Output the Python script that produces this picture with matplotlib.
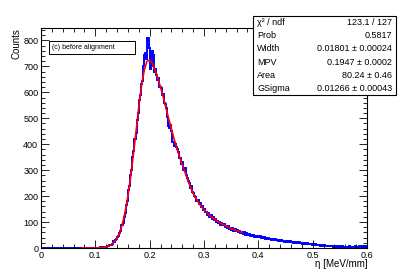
import numpy as np
import matplotlib
matplotlib.use("Agg")
import matplotlib.pyplot as plt
from matplotlib.patches import Rectangle
from matplotlib.ticker import MultipleLocator

# histogram: 300 bins of 0.002 between 0 and 0.6
bin_width = 0.002
counts = [
    # 0.000 - 0.120
    0, 0, 0, 1, 0, 0, 0, 0, 1, 0, 0, 0, 0, 0, 1, 0, 0, 0, 0, 0,
    0, 1, 0, 0, 0, 0, 0, 1, 0, 0, 0, 0, 1, 0, 0, 0, 0, 0, 1, 0,
    0, 0, 0, 1, 0, 0, 1, 0, 0, 0, 1, 0, 1, 0, 2, 1, 1, 2, 3, 2,
    # 0.120 - 0.150
    4, 7, 8, 11, 12, 17, 28, 24, 30, 33, 44, 48, 58, 66, 90,
    # 0.150 - 0.200
    96, 118, 135, 165, 182, 222, 240, 282, 300, 350, 372, 420, 445,
    495, 520, 570, 590, 632, 645, 700, 745, 752, 730, 810, 770,
    # 0.200 - 0.250
    690, 700, 760, 745, 680, 690, 665, 648, 655, 620, 618, 590, 595,
    560, 555, 540, 505, 470, 462, 475, 452, 410, 395, 400, 390,
    # 0.250 - 0.300
    380, 370, 348, 345, 325, 330, 300, 310, 282, 270, 258, 250, 232,
    238, 215, 212, 202, 195, 180, 186, 168, 172, 158, 160, 148,
    # 0.300 - 0.370
    150, 138, 140, 128, 134, 120, 126, 112, 118, 108, 112, 100, 106,
    96, 101, 90, 96, 88, 92, 82, 86, 78, 84, 72, 78, 70, 76, 66, 72,
    64, 70, 60, 66, 58, 62,
    # 0.370 - 0.400
    58, 54, 60, 52, 56, 50, 55, 48, 52, 46, 50, 44, 48, 43, 46,
    # 0.400 - 0.450
    42, 45, 40, 43, 38, 41, 36, 39, 35, 37, 33, 36, 31, 34, 30, 33,
    29, 31, 28, 30, 27, 30, 26, 28, 25,
    # 0.450 - 0.500
    27, 24, 26, 23, 27, 22, 25, 21, 24, 20, 23, 19, 22, 18, 21, 17,
    20, 16, 19, 15, 18, 14, 17, 15, 13,
    # 0.500 - 0.550
    16, 12, 15, 11, 13, 10, 12, 9, 11, 8, 10, 8, 9, 7, 9, 6, 8, 6,
    7, 5, 7, 5, 6, 4, 6,
    # 0.550 - 0.600
    5, 4, 6, 4, 5, 3, 5, 4, 6, 3, 5, 4, 5, 3, 6, 4, 5, 4, 6, 5, 7,
    5, 6, 5, 7,
]

# Landau x Gauss fit curve
eta_fit = [0.075, 0.08, 0.085, 0.09, 0.095, 0.10, 0.105, 0.11, 0.115, 0.12,
           0.125, 0.13, 0.135, 0.14, 0.145, 0.15, 0.155, 0.16, 0.165, 0.17,
           0.175, 0.18, 0.185, 0.19, 0.195, 0.20, 0.205, 0.21, 0.215, 0.22,
           0.225, 0.23, 0.235, 0.24, 0.245, 0.25, 0.255, 0.26, 0.265, 0.27,
           0.275, 0.28, 0.285, 0.29, 0.295, 0.30, 0.31, 0.32, 0.33, 0.34,
           0.35, 0.36, 0.37]
fit_vals = [0, 0, 0, 0, 0, 0, 0.5, 1, 2, 4,
            8, 14, 25, 37, 60, 95, 140, 200, 275, 360,
            450, 545, 625, 685, 720, 725, 712, 685, 655, 620,
            582, 540, 498, 460, 420, 385, 352, 322, 292, 262,
            235, 212, 192, 174, 160, 147, 126, 110, 96, 85,
            75, 67, 60]

stat_names = ["χ² / ndf", "Prob", "Width", "MPV", "Area", "GSigma"]
stat_values = ["123.1 / 127", "0.5817", "0.01801 ± 0.00024", "0.1947 ± 0.0002",
               "80.24 ± 0.46", "0.01266 ± 0.00043"]

plt.rcParams['font.family'] = ['Liberation Sans', 'DejaVu Sans']

W, H = 409, 277
fig = plt.figure(figsize=(W / 100, H / 100), dpi=100)


def fx(px):
    return px / W


def fy(py):
    return 1 - py / H


left, right, top, bottom = 41, 367, 28, 248
ax = fig.add_axes([fx(left), fy(bottom), fx(right - left), fy(top) - fy(bottom)])

edges = np.arange(len(counts) + 1) * bin_width
ax.stairs(counts, edges, color='#0000ff', lw=1.4)
ax.plot(eta_fit, fit_vals, color='#ff0000', lw=1.2)

ax.set_xlim(0, 0.6)
ax.set_ylim(0, 848)
ax.xaxis.set_major_locator(MultipleLocator(0.1))
ax.xaxis.set_minor_locator(MultipleLocator(0.02))
ax.yaxis.set_major_locator(MultipleLocator(100))
ax.yaxis.set_minor_locator(MultipleLocator(20))
ax.set_xticks([0, 0.1, 0.2, 0.3, 0.4, 0.5, 0.6])
ax.set_xticklabels(["0", "0.1", "0.2", "0.3", "0.4", "0.5", "0.6"])
ax.tick_params(which='both', direction='in', top=True, right=True,
               labelsize=6.5, width=0.6, pad=2)
ax.tick_params(which='major', length=6)
ax.tick_params(which='minor', length=3)
for s in ax.spines.values():
    s.set_linewidth(0.8)

fig.text(fx(17), fy(top), "Counts", rotation=90, ha='center', va='top', fontsize=7)
fig.text(fx(368), fy(264), "η [MeV/mm]", ha='right', va='center', fontsize=7)

# label box
fig.patches.append(Rectangle((fx(49), fy(54)), fx(135 - 49), fy(41) - fy(54),
                             transform=fig.transFigure, fill=False, lw=0.7,
                             edgecolor='black'))
fig.text(fx(52), fy(47.5), "(c) before alignment", ha='left', va='center', fontsize=5)

# stats box
bl, br, bt, bb = 253, 396, 16, 95
fig.patches.append(Rectangle((fx(bl), fy(bb)), fx(br - bl), fy(bt) - fy(bb),
                             transform=fig.transFigure, facecolor='white',
                             lw=0.8, edgecolor='black', zorder=5))
row_h = (bb - bt) / len(stat_names)
for i, (name, val) in enumerate(zip(stat_names, stat_values)):
    yy = fy(bt + (i + 0.5) * row_h)
    fig.text(fx(bl + 4), yy, name, ha='left', va='center', fontsize=6.5, zorder=6)
    fig.text(fx(br - 4), yy, val, ha='right', va='center', fontsize=6.5, zorder=6)

fig.savefig("out.png", dpi=100)
